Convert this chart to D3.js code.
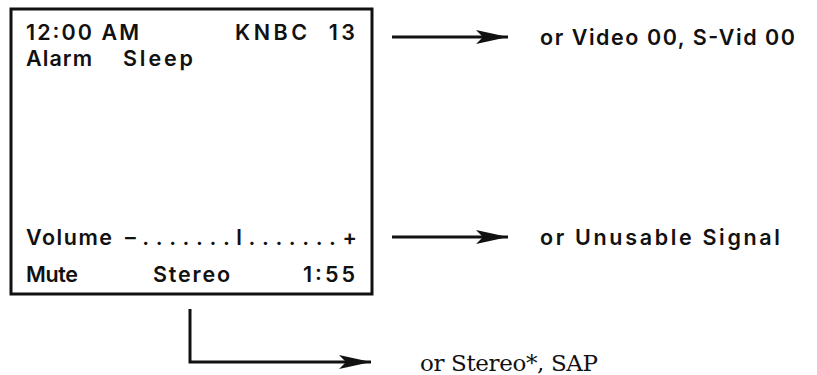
<!DOCTYPE html>
<meta charset="utf-8">
<style>
    body { margin: 0; background: #fff; }
    text.sans { font-family: Inter, "Liberation Sans", Arial, sans-serif; font-size: 21.5px; font-weight: 600; fill: #111; }
    text.serif { font-family: "DejaVu Serif", "Liberation Serif", serif; font-size: 23px; fill: #111; }
</style>
<svg width="817" height="375"></svg>
<script src="https://d3js.org/d3.v7.min.js"></script>
<script>
    // what the on-screen display shows, one entry per text row
    var rowNames = ["top", "second", "volume", "bottom"];
    var leftText = ["12:00 AM", "Alarm", "Volume", "Mute"];
    var midText = ["", "Sleep", "\u2013.......l.......+", "Stereo"];
    var rightText = ["KNBC  13", "", "", "1:55"];

    // alternatives that can show in place of a row
    var noteRows = ["top", "volume", "stereo"];
    var noteText = ["or Video 00, S-Vid 00", "or Unusable Signal", "or Stereo*, SAP"];

    var svg = d3.select("svg"),
        width = +svg.attr("width"),
        height = +svg.attr("height");

    var box = {x0: 11, y0: 9, x1: 372, y1: 294};
    var rowY = d3.scaleOrdinal().domain(rowNames).range([40, 66, 245, 282]);
    var noteY = d3.scaleOrdinal().domain(noteRows).range([37, 237, 362]);
    var leftLen = [113, 66, 86, 52];
    var midX = [0, 123, 125, 153], midLen = [0, 70, 232, 77];
    var rightLen = [120, 0, 0, 52];
    var noteX = [540, 540, 420], noteLen = [255, 240, 178];

    svg.append("defs").append("marker")
        .attr("id", "head")
        .attr("viewBox", "0 0 32 14")
        .attr("refX", 32).attr("refY", 7)
        .attr("markerWidth", 32).attr("markerHeight", 14)
        .attr("markerUnits", "userSpaceOnUse")
        .attr("orient", "auto")
        .append("path")
        .attr("d", "M0,0 L32,7 L0,14 L7,7 Z")
        .attr("fill", "#111");

    svg.append("rect")
        .attr("x", box.x0).attr("y", box.y0)
        .attr("width", box.x1 - box.x0).attr("height", box.y1 - box.y0)
        .attr("fill", "none")
        .attr("stroke", "#111")
        .attr("stroke-width", 3);

    function addText(g, txt, x, y, len, anchor) {
        if (!txt) return;
        g.append("text")
            .attr("class", "sans")
            .attr("x", x)
            .attr("y", y)
            .attr("text-anchor", anchor || "start")
            .attr("textLength", len)
            .attr("lengthAdjust", "spacing")
            .attr("xml:space", "preserve")
            .text(txt);
    }

    var screen = svg.append("g");
    rowNames.forEach(function(r, i) {
        addText(screen, leftText[i], 26, rowY(r), leftLen[i]);
        addText(screen, midText[i], midX[i], rowY(r), midLen[i]);
        addText(screen, rightText[i], 355, rowY(r), rightLen[i], "end");
    });

    var line = d3.line();

    svg.selectAll("path.arrow")
        .data(noteRows)
        .enter().append("path")
        .attr("class", "arrow")
        .attr("fill", "none")
        .attr("stroke", "#111")
        .attr("stroke-width", 3)
        .attr("marker-end", "url(#head)")
        .attr("d", function(d) {
            var y = noteY(d);
            if (d === "stereo") return line([[190, 309], [190, y], [371, y]]);
            return line([[392, y], [508, y]]);
        });

    svg.selectAll("text.note")
        .data(noteRows)
        .enter().append("text")
        .attr("class", function(d) { return d === "stereo" ? "note serif" : "note sans"; })
        .attr("x", function(d, i) { return noteX[i]; })
        .attr("y", function(d) { return noteY(d) + (d === "stereo" ? 9 : 8); })
        .attr("textLength", function(d, i) { return noteLen[i]; })
        .attr("lengthAdjust", "spacing")
        .text(function(d, i) { return noteText[i]; });
</script>
